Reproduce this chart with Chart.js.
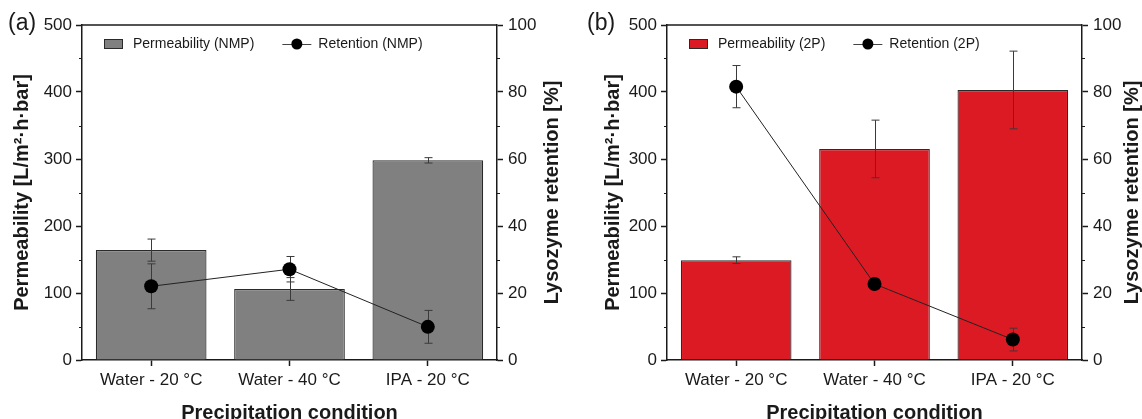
<!DOCTYPE html>
<html>
<head>
<meta charset="utf-8">
<script src="https://cdn.jsdelivr.net/npm/chart.js@4.4.1/dist/chart.umd.min.js"></script>
<style>
  html, body { margin: 0; padding: 0; background: #fff; overflow: hidden; }
  #wrap { position: relative; width: 1142px; height: 419px; overflow: hidden; }
  .panel { position: absolute; top: 0; width: 571px; height: 426px; }
  #panelA { left: 0; }
  #panelB { left: 571px; }
</style>
</head>
<body>
<div id="wrap">
  <div class="panel" id="panelA"><canvas id="chartA" width="571" height="426"></canvas></div>
  <div class="panel" id="panelB"><canvas id="chartB" width="571" height="426"></canvas></div>
</div>
<script>
const conditions = ['Water - 20 °C', 'Water - 40 °C', 'IPA - 20 °C'];

// NMP-based membranes
const permeabilityNMP = [164, 106, 298];
const permeabilityNMPErr = [16.5, 17, 4];
const retentionNMP = [22, 27.1, 9.9];
const retentionNMPErr = [6.7, 3.8, 4.9];

// 2P-based membranes
const permeability2P = [149, 315, 403];
const permeability2PErr = [5, 43, 58];
const retention2P = [81.6, 22.7, 6.1];
const retention2PErr = [6.3, 1.5, 3.4];

const permeabilityMinorTicks = [50, 150, 250, 350, 450];
const retentionMinorTicks = [10, 30, 50, 70, 90];

const FONT = "'Liberation Sans', Arial, Helvetica, sans-serif";
const INK = '#1a1a1a';

// error bars, minor ticks, frame, legend and extra titles
const decorPlugin = {
    id: 'decor',
    beforeDatasetDraw(chart, args) {
        const ds = chart.data.datasets[args.index];
        if (ds.type === 'line') this.drawErrors(chart, args.index);
    },
    afterDatasetDraw(chart, args) {
        const ds = chart.data.datasets[args.index];
        if (ds.type !== 'line') this.drawErrors(chart, args.index);
    },
    drawErrors(chart, index) {
        const ds = chart.data.datasets[index];
        if (!ds.errors) return;
        const meta = chart.getDatasetMeta(index);
        const scale = chart.scales[ds.yAxisID];
        const ctx = chart.ctx;
        ctx.save();
        ctx.strokeStyle = '#3a3a3a';
        ctx.lineWidth = 1;
        meta.data.forEach((el, i) => {
            const err = ds.errors[i];
            if (!err) return;
            const x = Math.round(el.x) + 0.5;
            const yTop = scale.getPixelForValue(ds.data[i] + err);
            const yBot = scale.getPixelForValue(ds.data[i] - err);
            ctx.beginPath();
            ctx.moveTo(x, yTop); ctx.lineTo(x, yBot);
            ctx.moveTo(x - 4, yTop); ctx.lineTo(x + 4, yTop);
            ctx.moveTo(x - 4, yBot); ctx.lineTo(x + 4, yBot);
            ctx.stroke();
        });
        ctx.restore();
    },
    afterDraw(chart, args, opts) {
        const ctx = chart.ctx;
        const area = chart.chartArea;
        const yLeft = chart.scales.y;
        const yRight = chart.scales.y1;
        ctx.save();

        // top edge of the frame
        ctx.strokeStyle = INK;
        ctx.lineWidth = 1.5;
        ctx.beginPath();
        ctx.moveTo(area.left, area.top);
        ctx.lineTo(area.right, area.top);
        ctx.stroke();

        // minor ticks
        ctx.lineWidth = 1;
        ctx.beginPath();
        permeabilityMinorTicks.forEach(v => {
            const y = Math.round(yLeft.getPixelForValue(v)) + 0.5;
            ctx.moveTo(area.left - 3, y); ctx.lineTo(area.left, y);
        });
        retentionMinorTicks.forEach(v => {
            const y = Math.round(yRight.getPixelForValue(v)) + 0.5;
            ctx.moveTo(area.right, y); ctx.lineTo(area.right + 3, y);
        });
        ctx.stroke();

        // right axis title, reading bottom to top
        ctx.fillStyle = INK;
        ctx.font = 'bold 20px ' + FONT;
        ctx.textAlign = 'center';
        ctx.textBaseline = 'middle';
        ctx.save();
        ctx.translate(area.right + opts.rightTitleOffset, (area.top + area.bottom) / 2);
        ctx.rotate(-Math.PI / 2);
        ctx.fillText('Lysozyme retention [%]', 0, 0);
        ctx.restore();

        // panel letter
        ctx.font = '23px ' + FONT;
        ctx.textAlign = 'left';
        ctx.textBaseline = 'alphabetic';
        ctx.fillText(opts.letter, opts.letterX, 30);

        // legend inside the plot
        const barDs = chart.data.datasets.find(d => d.type !== 'line');
        const lineDs = chart.data.datasets.find(d => d.type === 'line');
        const ly = area.top + 19;
        let lx = area.left + 22;
        ctx.font = '14px ' + FONT;
        ctx.textBaseline = 'middle';
        ctx.fillStyle = barDs.backgroundColor;
        ctx.fillRect(lx, ly - 5, 19, 10);
        ctx.strokeStyle = '#2a2a2a';
        ctx.lineWidth = 1;
        ctx.strokeRect(lx + 0.5, ly - 4.5, 18, 9);
        lx += 29;
        ctx.fillStyle = INK;
        ctx.fillText(barDs.label, lx, ly);
        lx += ctx.measureText(barDs.label).width + 28;
        ctx.strokeStyle = '#444';
        ctx.beginPath();
        ctx.moveTo(lx, ly + 0.5); ctx.lineTo(lx + 29, ly + 0.5);
        ctx.stroke();
        ctx.fillStyle = '#000';
        ctx.beginPath();
        ctx.arc(lx + 14.5, ly, 5.5, 0, Math.PI * 2);
        ctx.fill();
        lx += 36;
        ctx.fillStyle = INK;
        ctx.fillText(lineDs.label, lx, ly);

        ctx.restore();
    }
};

function axisGrid() {
    return {
        display: true,
        drawOnChartArea: false,
        drawTicks: true,
        tickLength: 6,
        tickColor: INK,
        tickWidth: 1.5,
        offset: false
    };
}

function buildPanel(canvasId, cfg) {
    return new Chart(document.getElementById(canvasId), {
        type: 'bar',
        data: {
            labels: conditions,
            datasets: [
                {
                    type: 'line',
                    label: cfg.retentionLabel,
                    data: cfg.retention,
                    errors: cfg.retentionErr,
                    yAxisID: 'y1',
                    order: 0,
                    borderColor: '#222',
                    borderWidth: 1,
                    tension: 0,
                    pointRadius: 7,
                    pointBackgroundColor: '#000',
                    pointBorderColor: '#000',
                    pointBorderWidth: 0
                },
                {
                    type: 'bar',
                    label: cfg.permeabilityLabel,
                    data: cfg.permeability,
                    errors: cfg.permeabilityErr,
                    yAxisID: 'y',
                    order: 1,
                    backgroundColor: cfg.color,
                    borderColor: '#2a2a2a',
                    borderWidth: 1.2,
                    borderSkipped: 'bottom',
                    categoryPercentage: 0.8,
                    barPercentage: 1
                }
            ]
        },
        options: {
            responsive: false,
            animation: false,
            layout: { padding: { top: 25, left: 0, right: 0, bottom: 0 } },
            plugins: {
                legend: { display: false },
                tooltip: { enabled: false },
                decor: {
                    letter: cfg.letter,
                    letterX: cfg.letterX,
                    rightTitleOffset: cfg.rightTitleOffset
                }
            },
            scales: {
                x: {
                    grid: axisGrid(),
                    border: { display: true, color: INK, width: 1.5 },
                    ticks: { font: { family: FONT, size: 17 }, color: INK, padding: 4 },
                    title: {
                        display: true,
                        text: 'Precipitation condition',
                        font: { family: FONT, size: 20, weight: 'bold' },
                        color: INK,
                        padding: { top: 0, bottom: 1 }
                    },
                    afterFit: s => { s.height = 66; }
                },
                y: {
                    position: 'left',
                    min: 0,
                    max: 500,
                    grid: axisGrid(),
                    border: { display: true, color: INK, width: 1.5 },
                    ticks: { stepSize: 100, font: { family: FONT, size: 17 }, color: INK, padding: 4 },
                    title: {
                        display: true,
                        text: 'Permeability [L/m²·h·bar]',
                        font: { family: FONT, size: 20, weight: 'bold' },
                        color: INK,
                        padding: { top: cfg.leftTitlePad, bottom: 0 }
                    },
                    afterFit: s => { s.width = cfg.leftWidth; }
                },
                y1: {
                    position: 'right',
                    min: 0,
                    max: 100,
                    grid: axisGrid(),
                    border: { display: true, color: INK, width: 1.5 },
                    ticks: { stepSize: 20, font: { family: FONT, size: 17 }, color: INK, padding: 5 },
                    afterFit: s => { s.width = cfg.rightWidth; }
                }
            }
        },
        plugins: [decorPlugin]
    });
}

buildPanel('chartA', {
    letter: '(a)',
    letterX: 8,
    color: '#808080',
    permeabilityLabel: 'Permeability (NMP)',
    retentionLabel: 'Retention (NMP)',
    permeability: permeabilityNMP,
    permeabilityErr: permeabilityNMPErr,
    retention: retentionNMP,
    retentionErr: retentionNMPErr,
    leftWidth: 82,
    rightWidth: 74,
    leftTitlePad: 10,
    rightTitleOffset: 55
});

buildPanel('chartB', {
    letter: '(b)',
    letterX: 16,
    color: '#dc1a23',
    permeabilityLabel: 'Permeability (2P)',
    retentionLabel: 'Retention (2P)',
    permeability: permeability2P,
    permeabilityErr: permeability2PErr,
    retention: retention2P,
    retentionErr: retention2PErr,
    leftWidth: 96,
    rightWidth: 60,
    leftTitlePad: 30,
    rightTitleOffset: 50
});
</script>
</body>
</html>
